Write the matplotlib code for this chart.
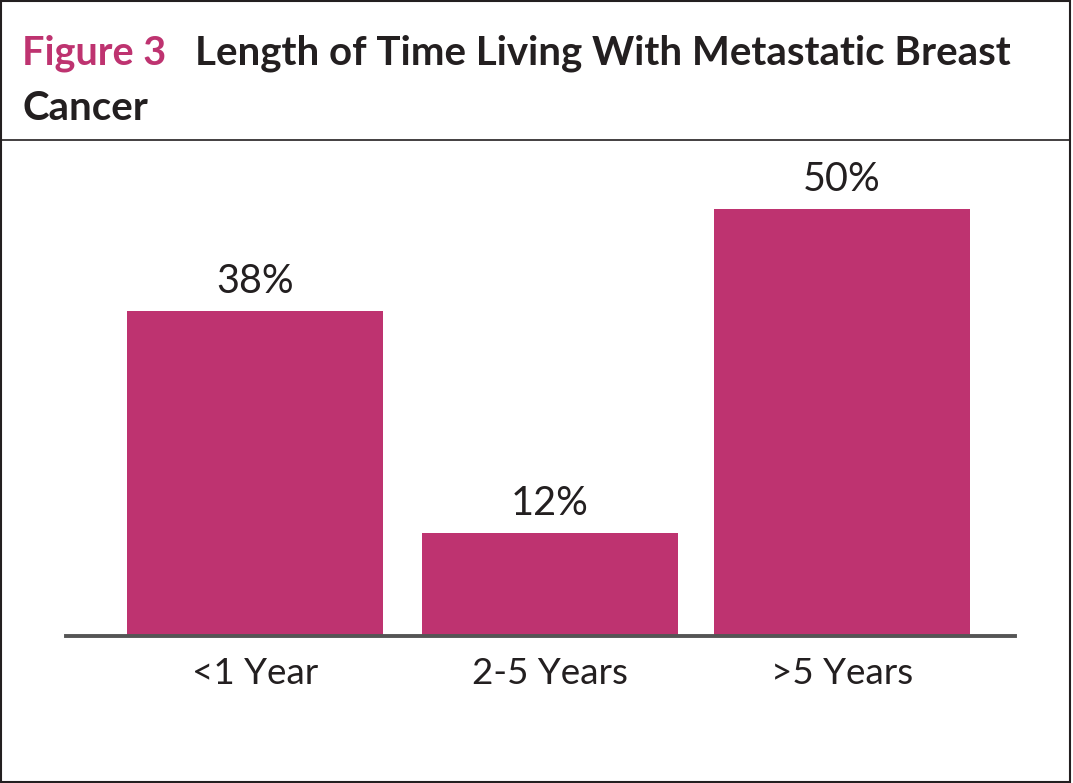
import matplotlib.pyplot as plt
from matplotlib.patches import Rectangle
from matplotlib.lines import Line2D

categories = ['<1 Year', '2-5 Years', '>5 Years']
values = [38, 12, 50]
value_labels = ['38%', '12%', '50%']

pink = '#BE3370'
dark = '#231F20'

W, H = 1073, 783
fig = plt.figure(figsize=(W / 100, H / 100), dpi=100)
plt.rcParams['font.family'] = ['Lato', 'DejaVu Sans']

# frame around the whole figure and the rule under the title
fig.patches.append(Rectangle((1 / W, 1 / H), 1 - 4 / W, 1 - 2 / H, transform=fig.transFigure,
                             fill=False, edgecolor=dark, linewidth=1.5))
fig.lines.append(Line2D([1 / W, 1 - 3 / W], [1 - 140 / H, 1 - 140 / H], transform=fig.transFigure,
                        color=dark, linewidth=1.2))

# title
fig.text(22 / W, 1 - 65 / H, 'Figure 3', color=pink, fontsize=28.5, fontweight='bold', va='baseline')
fig.text(195 / W, 1 - 65 / H, 'Length of Time Living With Metastatic Breast', color=dark,
         fontsize=29, fontweight='bold', va='baseline')
fig.text(22 / W, 1 - 120 / H, 'Cancer', color=dark, fontsize=29, fontweight='bold', va='baseline')

ax = fig.add_axes([66 / W, (H - 636) / H, (1015 - 66) / W, 476 / H])
x = [0, 1.005, 2.0]
bars = ax.bar(x, values, width=0.872, color=pink, zorder=1)
ax.set_xlim(-0.644, 2.59)
ax.set_ylim(0, 55.7)

for b, lab in zip(bars, value_labels):
    ax.annotate(lab, (b.get_x() + b.get_width() / 2, b.get_height()), xytext=(0, 8),
                textcoords='offset points', ha='center', va='bottom', fontsize=28.5, color=dark)

for s in ['top', 'right', 'left']:
    ax.spines[s].set_visible(False)
ax.spines['bottom'].set_color('#555555')
ax.spines['bottom'].set_linewidth(2.8)
ax.spines['bottom'].set_zorder(3)
ax.set_yticks([])
ax.set_xticks(x)
ax.set_xticklabels(categories, fontsize=26.5, color=dark)
ax.tick_params(axis='x', length=0, pad=15)

fig.savefig('out.png', dpi=100)
